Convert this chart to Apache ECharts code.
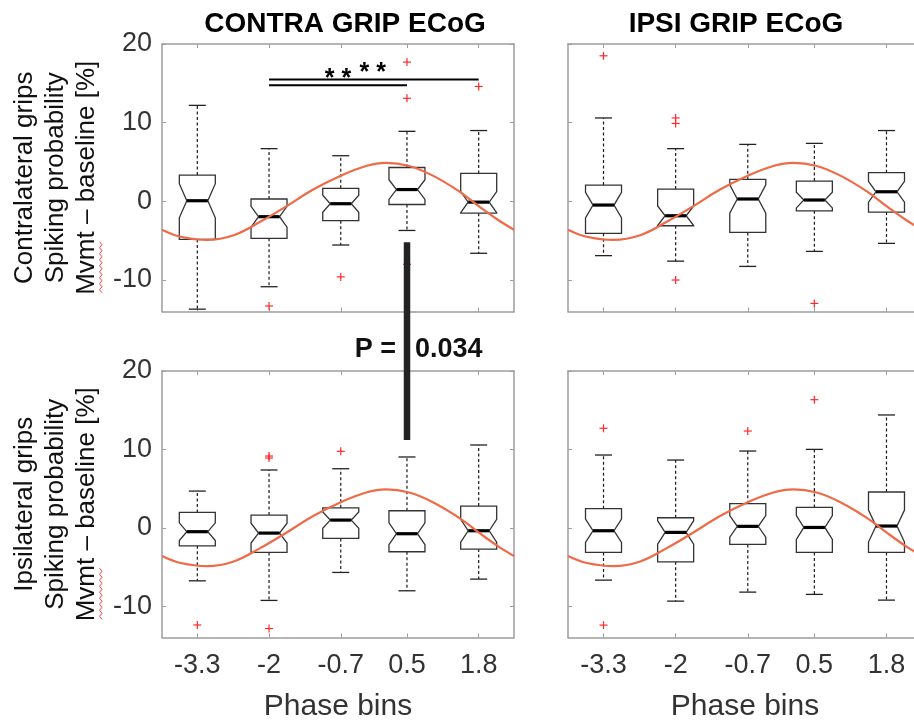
<!DOCTYPE html>
<html>
<head>
<meta charset="utf-8">
<script src="https://cdn.jsdelivr.net/npm/echarts@6/dist/echarts.min.js"></script>
<style>
  html, body { margin: 0; padding: 0; background: #fff; }
  #chart { width: 914px; height: 720px; }
</style>
</head>
<body>
<div id="chart"></div>
<script>
// Phase bins (x positions of the boxes) and tick marks
const phaseBins = [-3.3, -2, -0.7, 0.5, 1.8];
const phaseTickLabels = ['-3.3', '-2', '-0.7', '0.5', '1.8'];
const yTicks = [-10, 0, 10, 20];

// Reference oscillation drawn over every panel
const curvePhase = [-3.94, -3.6, -3.12, -2.64, -2.16, -1.68, -1.2, -0.72, -0.24, 0.12, 0.54, 0.96, 1.44, 1.8, 2.16, 2.44];
const curveValue = [-3.6, -4.5, -4.9, -4.3, -2.6, -0.6, 1.5, 3.2, 4.5, 4.9, 4.5, 3.3, 1.3, -0.6, -2.4, -3.6];

// Contralateral grips, CONTRA GRIP ECoG
const ccLow  = [-13.7, -10.85, -5.55, -3.7, -6.6];
const ccQ1   = [-4.84, -4.7, -2.46, -0.4, -1.5];
const ccMed  = [0.08, -1.95, -0.3, 1.5, -0.1];
const ccQ3   = [3.34, 0.3, 1.65, 4.3, 3.55];
const ccHigh = [12.2, 6.7, 5.8, 8.9, 9.0];
const ccOut  = [[-2, -13.3], [-0.7, -9.6], [0.5, 17.7], [0.5, 13.1], [0.5, -8.0], [1.8, 14.6]];

// Contralateral grips, IPSI GRIP ECoG
const ciLow  = [-6.9, -7.6, -8.27, -6.36, -5.34];
const ciQ1   = [-4.07, -3.1, -3.95, -1.2, -1.36];
const ciMed  = [-0.47, -1.83, 0.3, 0.17, 1.22];
const ciQ3   = [2.07, 1.56, 2.8, 2.58, 3.64];
const ciHigh = [10.6, 6.7, 7.24, 7.37, 9.0];
const ciOut  = [[-3.3, 18.5], [-2, 10.6], [-2, 9.9], [-2, -10.0], [0.5, -12.97]];

// Ipsilateral grips, CONTRA GRIP ECoG
const icLow  = [-6.77, -9.27, -5.7, -8.04, -6.55];
const icQ1   = [-2.3, -3.14, -1.36, -3.06, -2.72];
const icMed  = [-0.5, -0.68, 0.98, -0.76, -0.38];
const icQ3   = [1.96, 1.62, 2.55, 2.17, 2.77];
const icHigh = [4.68, 7.37, 7.53, 9.03, 10.56];
const icOut  = [[-3.3, -12.4], [-2, 9.15], [-2, 8.9], [-2, -12.85], [-0.7, 9.75]];

// Ipsilateral grips, IPSI GRIP ECoG
const iiLow  = [-6.68, -9.36, -8.21, -8.5, -9.23];
const iiQ1   = [-3.14, -4.34, -2.12, -3.14, -3.14];
const iiMed  = [-0.38, -0.59, 0.18, 0.04, 0.22];
const iiQ3   = [2.43, 1.28, 3.07, 2.6, 4.56];
const iiHigh = [9.28, 8.64, 9.79, 10.0, 14.39];
const iiOut  = [[-3.3, 12.69], [-3.3, -12.42], [-0.7, 12.34], [0.5, 16.34]];

// Pairwise comparison brackets (from bin, to bin, level) and star groups
const sigFrom  = [-2, -2];
const sigTo    = [1.8, 0.5];
const sigLevel = [15.5, 14.75];
const starPhase = [-0.75, -0.12];
const starLevel = [16.3, 17.05];
const starText  = ['* *', '* *'];

// Between-condition comparison
const pBarPhase = 0.5, pBarTopValue = -5.2, pBarBottomValue = 11.2;
const pLabel = 'P =', pValue = '0.034';

const nPerBin = 35; // sample size used for the notch half-height

const FONT = "'Liberation Sans', Arial, Helvetica, sans-serif";
const AXIS_GRAY = '#9d9d9d';
const TEXT_GRAY = '#333333';

const gridBoxes = [
  { left: 162, top: 44,  width: 352, height: 267.5 },
  { left: 568, top: 44,  width: 354, height: 267.5 },
  { left: 162, top: 371, width: 352, height: 266.5 },
  { left: 568, top: 371, width: 354, height: 266.5 }
];

const panels = [
  { low: ccLow, q1: ccQ1, med: ccMed, q3: ccQ3, high: ccHigh, out: ccOut },
  { low: ciLow, q1: ciQ1, med: ciMed, q3: ciQ3, high: ciHigh, out: ciOut },
  { low: icLow, q1: icQ1, med: icMed, q3: icQ3, high: icHigh, out: icOut },
  { low: iiLow, q1: iiQ1, med: iiMed, q3: iiQ3, high: iiHigh, out: iiOut }
];

function renderBox(params, api) {
  const x = api.value(0);
  const lo = api.value(1), q1 = api.value(2), md = api.value(3), q3 = api.value(4), hi = api.value(5);
  const nd = 1.57 * (q3 - q1) / Math.sqrt(nPerBin);
  const cx = api.coord([x, md])[0];
  const py = v => api.coord([x, v])[1];
  const W = 18, NW = 10.5, C = 8.5;
  const outline = [
    [cx - W, py(q1)], [cx - W, py(md - nd)], [cx - NW, py(md)], [cx - W, py(md + nd)], [cx - W, py(q3)],
    [cx + W, py(q3)], [cx + W, py(md + nd)], [cx + NW, py(md)], [cx + W, py(md - nd)], [cx + W, py(q1)]
  ];
  const dash = { stroke: '#1a1a1a', lineWidth: 1.2, lineDash: [3, 2.5], fill: null };
  const cap = { stroke: '#222', lineWidth: 1.3, fill: null };
  return {
    type: 'group',
    children: [
      { type: 'line', shape: { x1: cx, y1: py(q3), x2: cx, y2: py(hi) }, style: dash },
      { type: 'line', shape: { x1: cx, y1: py(q1), x2: cx, y2: py(lo) }, style: dash },
      { type: 'line', shape: { x1: cx - C, y1: py(hi), x2: cx + C, y2: py(hi) }, style: cap },
      { type: 'line', shape: { x1: cx - C, y1: py(lo), x2: cx + C, y2: py(lo) }, style: cap },
      { type: 'polygon', shape: { points: outline }, style: { stroke: '#333', lineWidth: 1.3, fill: null } },
      { type: 'line', shape: { x1: cx - NW, y1: py(md), x2: cx + NW, y2: py(md) }, style: { stroke: '#000', lineWidth: 3.2 } }
    ]
  };
}

function renderPlus(params, api) {
  const p = api.coord([api.value(0), api.value(1)]);
  const s = 4;
  const st = { stroke: '#ff2a2a', lineWidth: 1.2 };
  return {
    type: 'group',
    children: [
      { type: 'line', shape: { x1: p[0] - s, y1: p[1], x2: p[0] + s, y2: p[1] }, style: st },
      { type: 'line', shape: { x1: p[0], y1: p[1] - s, x2: p[0], y2: p[1] + s }, style: st }
    ]
  };
}

function renderStars(params, api) {
  const p = api.coord([api.value(0), api.value(1)]);
  return {
    type: 'text',
    x: p[0], y: p[1] + 6,
    style: {
      text: starText[params.dataIndex], fill: '#000',
      font: 'bold 25px ' + FONT, align: 'center', verticalAlign: 'middle'
    }
  };
}

const grid = [], xAxis = [], yAxis = [], series = [];

gridBoxes.forEach((g, i) => {
  const isBottom = i >= 2, isLeft = (i % 2) === 0;
  grid.push(Object.assign({ containLabel: false, outerBoundsMode: 'none' }, g));
  const line = { show: true, onZero: false, lineStyle: { color: AXIS_GRAY, width: 1.5 } };
  const tick = { show: true, inside: true, length: 4, lineStyle: { color: AXIS_GRAY, width: 1 } };
  const xBase = { gridIndex: i, type: 'value', min: -3.94, max: 2.44, splitLine: { show: false }, axisLine: line };
  xAxis.push(Object.assign({}, xBase, {
    position: 'bottom',
    axisTick: Object.assign({ customValues: phaseBins }, tick),
    axisLabel: {
      show: isBottom, customValues: phaseBins, margin: 15,
      formatter: v => phaseTickLabels[phaseBins.indexOf(v)] ?? String(v),
      fontSize: 27, fontFamily: FONT, color: TEXT_GRAY
    },
    name: isBottom ? 'Phase bins' : '',
    nameLocation: 'middle', nameGap: 54,
    nameTextStyle: { fontSize: 30, fontFamily: FONT, color: TEXT_GRAY }
  }));
  xAxis.push(Object.assign({}, xBase, {
    position: 'top',
    axisTick: Object.assign({ customValues: phaseBins }, tick),
    axisLabel: { show: false }
  }));
  const yBase = { gridIndex: i, type: 'value', min: -14, max: 20, splitLine: { show: false }, axisLine: line };
  yAxis.push(Object.assign({}, yBase, {
    position: 'left',
    axisTick: Object.assign({ customValues: yTicks }, tick),
    axisLabel: {
      show: isLeft, customValues: yTicks, margin: 10,
      fontSize: 27, fontFamily: FONT, color: TEXT_GRAY
    }
  }));
  yAxis.push(Object.assign({}, yBase, {
    position: 'right',
    axisTick: Object.assign({ customValues: yTicks }, tick),
    axisLabel: { show: false }
  }));

  const P = panels[i];
  const boxData = phaseBins.map((x, k) => [x, P.low[k], P.q1[k], P.med[k], P.q3[k], P.high[k]]);
  series.push({
    type: 'custom', xAxisIndex: 2 * i, yAxisIndex: 2 * i,
    renderItem: renderBox, data: boxData, encode: { x: 0, y: [1, 2, 3, 4, 5] }, z: 2, silent: true
  });
  series.push({
    type: 'custom', xAxisIndex: 2 * i, yAxisIndex: 2 * i,
    renderItem: renderPlus, data: P.out, encode: { x: 0, y: 1 }, z: 3, silent: true
  });
  series.push({
    type: 'line', xAxisIndex: 2 * i, yAxisIndex: 2 * i,
    data: curvePhase.map((x, k) => [x, curveValue[k]]),
    smooth: 0.4, showSymbol: false, symbol: 'none', clip: true,
    lineStyle: { color: '#ef6a46', width: 2.2 }, z: 4, silent: true
  });
});

// Significance brackets and stars on the top-left panel
sigFrom.forEach((x0, k) => {
  series.push({
    type: 'line', xAxisIndex: 0, yAxisIndex: 0,
    data: [[x0, sigLevel[k]], [sigTo[k], sigLevel[k]]],
    symbol: 'none', lineStyle: { color: '#000', width: 2 }, z: 5, silent: true
  });
});
series.push({
  type: 'custom', xAxisIndex: 0, yAxisIndex: 0, renderItem: renderStars,
  data: starPhase.map((x, k) => [x, starLevel[k]]), encode: { x: 0, y: 1 }, z: 6, silent: true
});

const chart = echarts.init(document.getElementById('chart'), null, { renderer: 'canvas' });
chart.setOption({ animation: false, backgroundColor: '#fff', grid, xAxis, yAxis, series });

// Titles, row labels and the between-condition comparison
const barTop = chart.convertToPixel({ xAxisIndex: 0, yAxisIndex: 0 }, [pBarPhase, pBarTopValue]);
const barBottom = chart.convertToPixel({ xAxisIndex: 4, yAxisIndex: 4 }, [pBarPhase, pBarBottomValue]);

const rowLabels = [
  { text: 'Contralateral grips\nSpiking probability\nMvmt \u2013 baseline [%]', y: gridBoxes[0].top + gridBoxes[0].height / 2 },
  { text: 'Ipsilateral grips\nSpiking probability\nMvmt \u2013 baseline [%]', y: gridBoxes[2].top + gridBoxes[2].height / 2 }
];

const graphic = [
  { type: 'text', x: 345, y: 24, style: { text: 'CONTRA GRIP ECoG', font: 'bold 28px ' + FONT, fill: '#000', align: 'center', verticalAlign: 'middle' } },
  { type: 'text', x: 736, y: 24, style: { text: 'IPSI GRIP ECoG', font: 'bold 28px ' + FONT, fill: '#000', align: 'center', verticalAlign: 'middle' } },
  { type: 'rect', shape: { x: barTop[0] - 3.2, y: barTop[1], width: 6.5, height: barBottom[1] - barTop[1] }, style: { fill: '#222' }, z: 10 },
  { type: 'text', x: barTop[0] - 11, y: 350, style: { text: pLabel, font: 'bold 27px ' + FONT, fill: '#111', align: 'right', verticalAlign: 'middle' }, z: 10 },
  { type: 'text', x: barTop[0] + 8, y: 350, style: { text: pValue, font: 'bold 27px ' + FONT, fill: '#111', align: 'left', verticalAlign: 'middle' }, z: 10 }
];

rowLabels.forEach(r => {
  graphic.push({
    type: 'text', x: 56, y: r.y, rotation: Math.PI / 2,
    style: { text: r.text, font: '26px ' + FONT, lineHeight: 31, fill: '#111', align: 'center', verticalAlign: 'middle' }
  });
  // spell-check squiggle under the abbreviation on the third line
  const pts = [];
  let flip = 0;
  for (let yy = r.y + 64; yy <= r.y + 116; yy += 3) {
    pts.push([flip ? 102 : 99.5, yy]);
    flip = 1 - flip;
  }
  graphic.push({ type: 'polyline', shape: { points: pts }, style: { stroke: '#ff4040', lineWidth: 1, fill: null } });
});

chart.setOption({ graphic });
</script>
</body>
</html>
